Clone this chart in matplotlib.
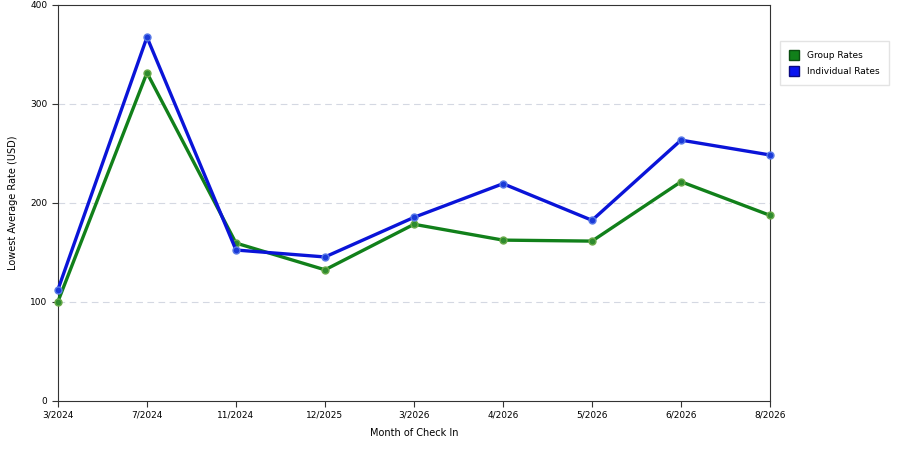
import matplotlib
matplotlib.use("Agg")
from matplotlib import pyplot as plt
from matplotlib.patches import Patch

months = ["3/2024", "7/2024", "11/2024", "12/2025", "3/2026", "4/2026", "5/2026", "6/2026", "8/2026"]
group_rates = [100, 331, 159, 132, 178, 162, 161, 221, 187]
individual_rates = [112, 367, 152, 145, 185, 219, 182, 263, 248]

plt.rcParams['font.family'] = ['DejaVu Sans']

fig = plt.figure(figsize=(9, 4.5), dpi=100)
ax = fig.add_axes([0.0644, 0.11, 0.7912, 0.88])

x = list(range(len(months)))
ax.plot(x, group_rates, color='#11801a', lw=2.4, marker='o', ms=5,
        mfc='#2e8b2e', mec='#6aaa4a', mew=1, zorder=3, clip_on=False)
ax.plot(x, individual_rates, color='#0a14d8', lw=2.4, marker='o', ms=5,
        mfc='#1a3ad8', mec='#5a7ae8', mew=1, zorder=4, clip_on=False)

ax.set_xlim(0, len(months) - 1)
ax.set_ylim(0, 400)
ax.set_xticks(x)
ax.set_xticklabels(months)
ax.set_yticks([0, 100, 200, 300, 400])
ax.tick_params(labelsize=6.5, length=4, width=0.8, color='#333333')
for yv in [100, 200, 300]:
    ax.axhline(yv, color='#d4d8e2', lw=0.8, ls=(0, (6, 4)), zorder=1)
for s in ax.spines.values():
    s.set_linewidth(0.8)
    s.set_color('#333333')

ax.set_xlabel('Month of Check In', fontsize=7, labelpad=6)
ax.set_ylabel('Lowest Average Rate (USD)', fontsize=7)
ax.yaxis.set_label_coords(-0.056, 0.5)

handles = [Patch(facecolor='#11801a', edgecolor='#0b4d10', label='Group Rates'),
           Patch(facecolor='#0a14f0', edgecolor='#0a0a80', label='Individual Rates')]
leg = fig.legend(handles=handles, loc='upper left', bbox_to_anchor=(0.862, 0.918),
                 fontsize=6.5, frameon=True, fancybox=False, edgecolor='#dddddd',
                 handlelength=1.1, handleheight=1.2, borderpad=1.0, labelspacing=0.7,
                 handletextpad=0.9)

fig.savefig('out.png', dpi=100)
